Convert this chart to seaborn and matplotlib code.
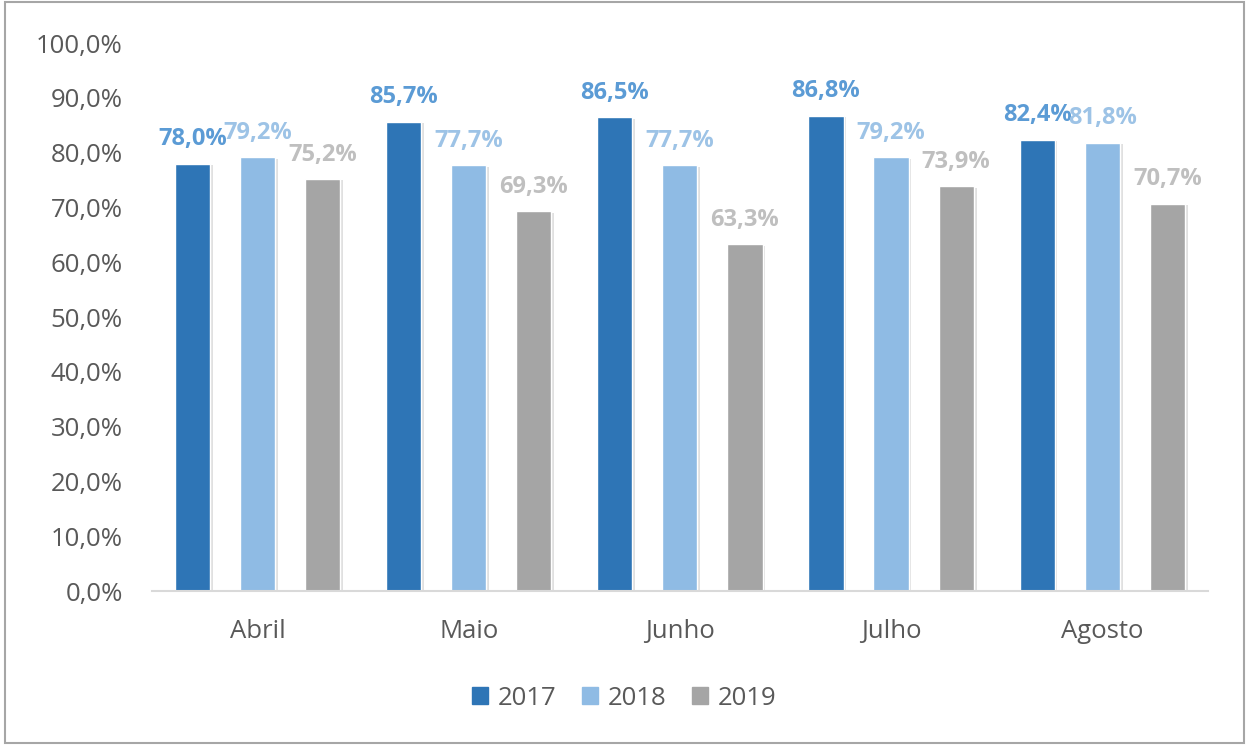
import pandas as pd
import seaborn as sns
import matplotlib.pyplot as plt
import matplotlib.patheffects as pe
from matplotlib.patches import Rectangle

months = ['Abril', 'Maio', 'Junho', 'Julho', 'Agosto']
years = ['2017', '2018', '2019']
v2017 = [78.0, 85.7, 86.5, 86.8, 82.4]
v2018 = [79.2, 77.7, 77.7, 79.2, 81.8]
v2019 = [75.2, 69.3, 63.3, 73.9, 70.7]

bar_colors = ['#2E75B6', '#8FBBE4', '#A5A5A5']
label_colors = ['#5B9BD5', '#9DC3E6', '#BFBFBF']

df = pd.DataFrame({
    'mes': months * 3,
    'ano': [y for y in years for _ in months],
    'valor': v2017 + v2018 + v2019,
})

sns.set_style('white')
plt.rcParams['font.family'] = ['Open Sans', 'DejaVu Sans']

fig = plt.figure(figsize=(12.49, 7.45), dpi=100)
ax = fig.add_axes([0.1217, 0.2067, 0.8453, 0.7353])

sns.barplot(data=df, x='mes', y='valor', hue='ano', palette=bar_colors,
            width=0.925, gap=0.46, ax=ax, saturation=1, legend=False)

shadow = [pe.SimplePatchShadow(offset=(2, -1), shadow_rgbFace='#000000', alpha=0.12), pe.Normal()]
for i, cont in enumerate(ax.containers):
    for bar in cont:
        bar.set_path_effects(shadow)
    labels = [format(v, '.1f').replace('.', ',') + '%' for v in cont.datavalues]
    ax.bar_label(cont, labels=labels, padding=9, color=label_colors[i],
                 fontsize=17, fontweight='bold')

ax.set_ylim(0, 100)
ax.set_xlim(-0.5, 4.5)
ax.set_yticks(range(0, 101, 10))
ax.set_yticklabels([f'{t},0%' for t in range(0, 101, 10)])
ax.tick_params(axis='both', length=0, labelsize=18.5, colors='#595959')
ax.tick_params(axis='x', pad=20)
ax.tick_params(axis='y', pad=21)
ax.set_xlabel('')
ax.set_ylabel('')
for s in ['top', 'right', 'left']:
    ax.spines[s].set_visible(False)
ax.spines['bottom'].set_color('#D9D9D9')
ax.spines['bottom'].set_linewidth(1.5)

handles = [Rectangle((0, 0), 1, 1, color=c) for c in bar_colors]
fig.legend(handles, years, loc='center', bbox_to_anchor=(0.5, 0.063), ncol=3,
           frameon=False, fontsize=18.5, handlelength=0.6, handleheight=0.6,
           handletextpad=0.4, columnspacing=1.0, labelcolor='#595959')

fig.patches.append(Rectangle((0.004, 0.003), 0.992, 0.994, transform=fig.transFigure,
                             fill=False, edgecolor='#A6A6A6', linewidth=1.5))

fig.savefig('out.png', dpi=100)
